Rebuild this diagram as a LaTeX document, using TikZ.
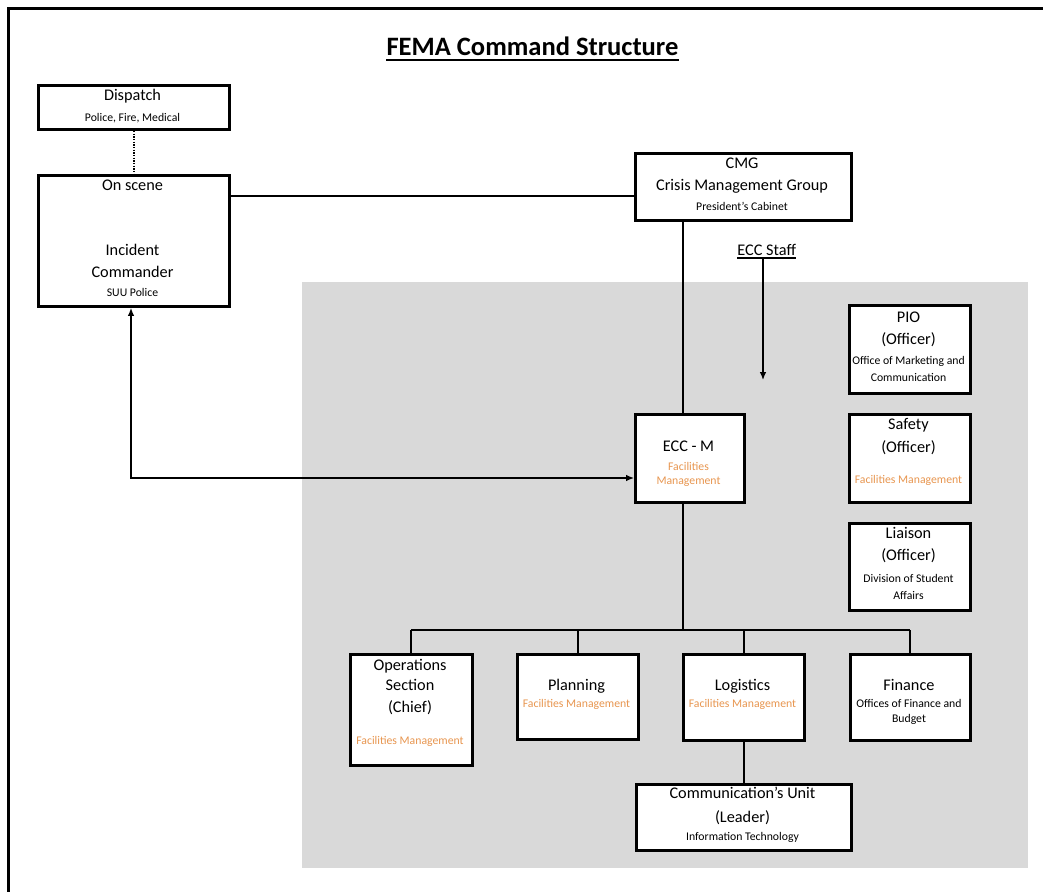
\documentclass[tikz,border=0pt]{standalone}
\usepackage{fontspec}
\setmainfont{Carlito}
\usetikzlibrary{arrows.meta}
\definecolor{bggray}{RGB}{217,217,217}
\definecolor{fac}{RGB}{232,150,80}
\newcommand\mkbox[5]{\node[box,anchor=north west,minimum width={(#4-#2)*0.75pt},minimum height={(#5-#3)*0.75pt}] (#1) at (#2,#3) {};}
\begin{document}
\begin{tikzpicture}[x=0.75pt,y=-0.75pt,
  box/.style={draw=black,line width=2.2pt,fill=white,inner sep=0pt},
  big/.style={font=\fontsize{12.2}{14}\selectfont,inner sep=0pt,anchor=base},
  sml/.style={font=\fontsize{8.8}{10}\selectfont,inner sep=0pt,anchor=base},
  org/.style={sml,text=fac},
  conn/.style={line width=1.5pt},
  thinln/.style={line width=1pt},
  tipend/.style={-{Latex[length=6pt,width=5pt]}},
  tipboth/.style={{Latex[length=6pt,width=5pt]}-{Latex[length=6pt,width=5pt]}}]
\useasboundingbox (0,0) rectangle (1043,892);
\fill[white] (0,0) rectangle (1043,892);
\fill[bggray] (302,282) rectangle (1028,868);
\draw[line width=2pt] (8.5,892) -- (8.5,8.5) -- (1043,8.5);

% title
\node[font=\fontsize{19.9}{22}\bfseries\selectfont,inner sep=0pt,anchor=base] (title) at (532.5,56) {FEMA Command Structure};
\draw[line width=1.4pt] ([yshift=-3pt]title.base west) -- ([yshift=-3pt]title.base east);

% boxes
\mkbox{dispatch}{37}{84}{228}{128}
\mkbox{onscene}{37}{174}{228}{305}
\mkbox{cmg}{634}{152}{850}{219}
\mkbox{eccm}{634}{413}{743}{501}
\mkbox{pio}{848}{304}{969}{392}
\mkbox{safety}{848}{413}{969}{501}
\mkbox{liaison}{848}{522}{969}{609}
\mkbox{ops}{349}{653}{471}{764}
\mkbox{plan}{516}{653}{637}{738}
\mkbox{logi}{682}{653}{803}{739}
\mkbox{fin}{849}{653}{969}{739}
\mkbox{comm}{635}{783}{850}{849}

% coordinates
\coordinate (vx) at (682.5,0);
\coordinate (h1) at (0,196);
\coordinate (h2) at (0,478);
\coordinate (v2) at (131,0);
\coordinate (bus) at (0,630);
\coordinate (ecctip) at (763,380);

% connectors
\draw[densely dotted,thinln] (dispatch.south) -- (onscene.north);
\draw[thinln] (onscene.east |- h1) -- (cmg.west |- h1);
\draw[conn] (cmg.south -| vx) -- (eccm.north -| vx);
\node[big] (eccstaff) at (766.7,255) {ECC Staff};
\draw[line width=1pt] ([yshift=-2.3pt]eccstaff.base west) -- ([yshift=-2.3pt]eccstaff.base east);
\coordinate (esb) at ([yshift=-2.3pt]eccstaff.base);
\draw[thinln,tipend] (esb -| ecctip) -- (ecctip);
\draw[thinln,tipboth] (onscene.south -| v2) -- (h2 -| v2) -- (eccm.west |- h2);
\draw[conn] (eccm.south -| vx) -- (bus -| vx);
\draw[conn] (bus -| ops.north) -- (bus -| fin.north);
\draw[conn] (bus -| ops.north) -- (ops.north);
\draw[conn] (bus -| plan.north) -- (plan.north);
\draw[conn] (bus -| logi.north) -- (logi.north);
\draw[conn] (bus -| fin.north) -- (fin.north);
\draw[conn] (logi.south) -- (comm.north -| logi.south);

% texts
\node[big] (t1) at (132.5,101) {Dispatch};
\node[sml] (t2) at (132.5,121.4) {Police, Fire, Medical};
\node[big] (t3) at (132.5,190.3) {On scene};
\node[big] (t4) at (132.5,255.3) {Incident};
\node[big] (t5) at (132.5,277) {Commander};
\node[sml] (t6) at (132.5,296.7) {SUU Police};
\node[big] (t7) at (742,168.6) {CMG};
\node[big] (t8) at (742,190.3) {Crisis Management Group};
\node[sml] (t9) at (742,210.7) {President's Cabinet};
\node[big] (t10) at (688.5,451) {ECC - M};
\node[org] (t11) at (688.5,470) {Facilities};
\node[org] (t12) at (688.5,484.7) {Management};
\node[big] (t13) at (908.5,322) {PIO};
\node[big] (t14) at (908.5,344) {(Officer)};
\node[sml] (t15) at (908.5,364) {Office of Marketing and};
\node[sml] (t16) at (908.5,381.4) {Communication};
\node[big] (t17) at (908.5,429.6) {Safety};
\node[big] (t18) at (908.5,452) {(Officer)};
\node[org] (t19) at (908.5,483.4) {Facilities Management};
\node[big] (t20) at (908.5,538.6) {Liaison};
\node[big] (t21) at (908.5,560) {(Officer)};
\node[sml] (t22) at (908.5,582.4) {Division of Student};
\node[sml] (t23) at (908.5,599) {Affairs};
\node[big] (t24) at (410,670.3) {Operations};
\node[big] (t25) at (410,690.3) {Section};
\node[big] (t26) at (410,712) {(Chief)};
\node[org] (t27) at (410,744) {Facilities Management};
\node[big] (t28) at (576.5,690.3) {Planning};
\node[org] (t29) at (576.5,707.4) {Facilities Management};
\node[big] (t30) at (742.5,690.3) {Logistics};
\node[org] (t31) at (742.5,707.4) {Facilities Management};
\node[big] (t32) at (909,690.3) {Finance};
\node[sml] (t33) at (909,707.4) {Offices of Finance and};
\node[sml] (t34) at (909,722.4) {Budget};
\node[big] (t35) at (742.5,798.6) {Communication's Unit};
\node[big] (t36) at (742.5,822) {(Leader)};
\node[sml] (t37) at (742.5,840.7) {Information Technology};
\end{tikzpicture}
\end{document}
